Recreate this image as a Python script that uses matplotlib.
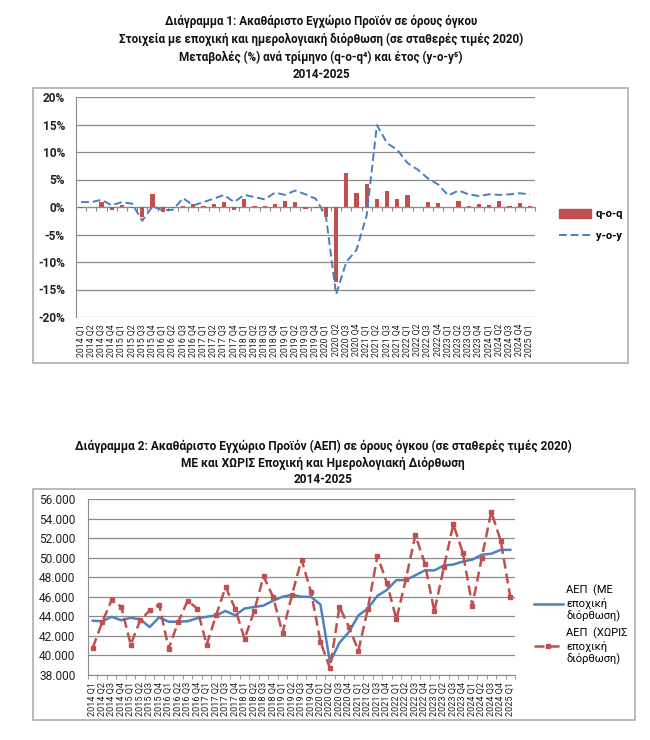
import numpy as np
import matplotlib.pyplot as plt
from matplotlib.patches import Rectangle
from matplotlib.lines import Line2D
from matplotlib.patches import Patch

plt.rcParams['font.family'] = ['Roboto', 'Noto Sans', 'DejaVu Sans']

# quarters 2014 Q1 .. 2025 Q1
quarters = [f"{y} Q{q}" for y in range(2014, 2026) for q in range(1, 5)][:45]

# Chart 1: % change, seasonally adjusted
qoq = [-0.2, 0.0, 0.9, -0.6, 0.4, -0.1, -1.8, 2.4, -0.9, -0.1, 0.2, 0.6,
       0.1, 0.5, 0.9, -0.6, 1.45, 0.1, 0.2, 0.6, 1.1, 0.9, -0.4, -0.1,
       -1.9, -13.7, 6.2, 2.6, 4.2, 1.5, 2.9, 1.5, 2.1, 0.05, 0.9, 0.7,
       0.05, 1.1, 0.1, 0.6, 0.3, 1.1, 0.2, 0.7, 0.1]
yoy = [0.9, 0.9, 1.3, 0.3, 0.9, 0.6, -2.5, 0.1, -0.6, -0.5, 1.6, 0.3,
       0.9, 1.5, 2.2, 0.9, 2.2, 1.8, 1.4, 2.6, 2.2, 3.0, 2.3, 1.5,
       -1.6, -15.9, -10.0, -7.8, -1.5, 14.9, 11.6, 10.4, 8.0, 6.8, 5.2, 4.1,
       2.1, 3.0, 2.3, 2.0, 2.3, 2.2, 2.3, 2.5, 2.3]

# Chart 2: GDP level (million euro), with / without seasonal adjustment
gdp_sa = [43550, 43500, 43950, 43600, 43850, 43700, 42900, 43900, 43450, 43450,
          43500, 43800, 43950, 44100, 44550, 44100, 44800, 44950, 45100, 45600,
          46000, 46200, 46000, 46000, 45200, 39300, 41300, 42400, 44100, 44800,
          46100, 46700, 47700, 47700, 48200, 48700, 48700, 49200, 49300, 49600,
          49800, 50300, 50400, 50800, 50800]
gdp_nsa = [40800, 43400, 45700, 45000, 41100, 43600, 44600, 45200, 40700, 43400,
           45600, 44800, 41100, 44100, 47000, 44800, 41700, 44500, 48100, 46000,
           42300, 46200, 49800, 46500, 41400, 38700, 45000, 42900, 40500, 44800,
           50200, 47400, 43700, 47800, 52300, 49400, 44500, 49000, 53400, 50500,
           45100, 50000, 54700, 51700, 46000]

RED = '#C0504D'
BLUE = '#4A7EBB'
GRID = '#8C8C8C'
BOX = '#B4B4B4'

W, H = 650, 740
fig = plt.figure(figsize=(6.5, 7.4), dpi=100)


def fx(px):
    return px / W


def fy(py):
    return 1 - py / H


x = np.arange(len(quarters))
bounds = np.arange(len(quarters) + 1) - 0.5

# ---------------- Chart 1 ----------------
titles1 = ["Διάγραμμα 1: Ακαθάριστο Εγχώριο Προϊόν σε όρους όγκου",
           "Στοιχεία με εποχική και ημερολογιακή διόρθωση (σε σταθερές τιμές 2020)",
           "Μεταβολές (%) ανά τρίμηνο (q-o-q⁴) και έτος (y-o-y⁵)",
           "2014-2025"]
for t, py in zip(titles1, [21, 39, 57, 75]):
    fig.text(fx(321), fy(py), t, ha='center', va='center', fontsize=8.4,
             fontweight='bold', color='#111111')

fig.add_artist(Rectangle((fx(33), fy(363)), fx(628) - fx(33), fy(88) - fy(363),
                         transform=fig.transFigure, fill=False, ec=BOX, lw=1.3))

ax1 = fig.add_axes([fx(76), fy(317), fx(535) - fx(76), fy(97) - fy(317)])
ax1.bar(x, qoq, width=0.42, color=RED, zorder=3)
ax1.plot(x, yoy, color=BLUE, lw=1.4, dashes=(4, 2), zorder=4)
ax1.set_xlim(-0.5, len(quarters) - 0.5)
ax1.set_ylim(-20, 20)
ax1.set_yticks(np.arange(-20, 21, 5))
ax1.set_yticklabels([f"{v}%" for v in range(-20, 21, 5)], fontweight='bold',
                    fontsize=8.6)
ax1.yaxis.grid(True, color=GRID, lw=0.9)
ax1.set_axisbelow(True)
ax1.set_xticks(x)
ax1.set_xticklabels(quarters, rotation=90, fontsize=6.3)
ax1.tick_params(axis='x', length=0, pad=5, colors='#222222')
ax1.tick_params(axis='y', length=0, pad=8, colors='#222222')
for s in ['top', 'right', 'bottom']:
    ax1.spines[s].set_visible(False)
ax1.spines['left'].set_color(GRID)
sec = ax1.secondary_xaxis(0.5)
sec.set_xticks(bounds)
sec.tick_params(axis='x', bottom=True, top=False, labelbottom=False,
                labeltop=False, direction='out', length=3, color=GRID)
sec.spines['bottom'].set_color(GRID)
sec.spines['top'].set_color(GRID)

h1 = [Patch(color=RED), Line2D([], [], color=BLUE, lw=1.4, dashes=(4, 2))]
fig.legend(h1, ['q-o-q', 'y-o-y'], loc='center left',
           bbox_to_anchor=(fx(549), fy(225)), frameon=False,
           prop={'weight': 'bold', 'size': 8}, handlelength=2.9,
           handleheight=0.9, labelspacing=1.0, handletextpad=0.4)

# ---------------- Chart 2 ----------------
titles2 = ["Διάγραμμα 2: Ακαθάριστο Εγχώριο Προϊόν (ΑΕΠ) σε όρους όγκου (σε σταθερές τιμές 2020)",
           "ΜΕ και ΧΩΡΙΣ Εποχική και Ημερολογιακή Διόρθωση",
           "2014-2025"]
for t, py in zip(titles2, [446, 463, 479]):
    fig.text(fx(323), fy(py), t, ha='center', va='center', fontsize=8.6,
             fontweight='bold', color='#111111')

fig.add_artist(Rectangle((fx(33), fy(720)), fx(635) - fx(33), fy(489) - fy(720),
                         transform=fig.transFigure, fill=False, ec=BOX, lw=1.3))

ax2 = fig.add_axes([fx(88), fy(675), fx(515) - fx(88), fy(499) - fy(675)])
ax2.plot(x, gdp_sa, color='#4F81BD', lw=1.8, zorder=3,
         label='ΑΕΠ  (ΜΕ\nεποχική\nδιόρθωση)')
ax2.plot(x, gdp_nsa, color=RED, lw=1.8, dashes=(4, 2), marker='s', ms=2.6,
         zorder=4, label='ΑΕΠ  (ΧΩΡΙΣ\nεποχική\nδιόρθωση)')
ax2.set_xlim(-0.5, len(quarters) - 0.5)
ax2.set_ylim(38000, 56000)
ax2.set_yticks(np.arange(38000, 56001, 2000))
ax2.set_yticklabels([f"{v // 1000}.000" for v in range(38000, 56001, 2000)],
                    fontsize=8.6)
ax2.yaxis.grid(True, color=GRID, lw=0.9)
ax2.set_axisbelow(True)
ax2.set_xticks(x)
ax2.set_xticklabels(quarters, rotation=90, fontsize=6.6)
ax2.set_xticks(bounds, minor=True)
ax2.tick_params(axis='x', which='major', length=0, pad=5)
ax2.tick_params(axis='x', which='minor', length=3, color=GRID, direction='out')
ax2.tick_params(axis='y', length=0, pad=9)
ax2.tick_params(colors='#222222', which='major')
for s in ['top', 'right']:
    ax2.spines[s].set_visible(False)
ax2.spines['left'].set_color(GRID)
ax2.spines['bottom'].set_color(GRID)

fig.legend(*ax2.get_legend_handles_labels(), loc='center left',
           bbox_to_anchor=(fx(524), fy(625)), frameon=False,
           prop={'size': 8}, handlelength=2.6, labelspacing=0.45,
           handletextpad=0.3)

fig.savefig('out.png', dpi=100)
